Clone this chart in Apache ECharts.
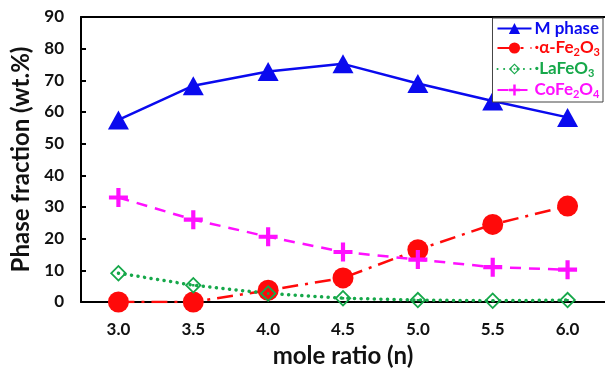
<!DOCTYPE html>
<html>
<head>
<meta charset="utf-8">
<script src="https://cdn.jsdelivr.net/npm/echarts@6/dist/echarts.min.js"></script>
<style>
  html, body { margin: 0; padding: 0; background: #fff; }
  #chart { width: 605px; height: 371px; }
</style>
</head>
<body>
<div id="chart"></div>
<script>
// mole ratio categories
const moleRatio = ["3.0", "3.5", "4.0", "4.5", "5.0", "5.5", "6.0"];
// phase fractions (wt.%)
const mPhase = [57.5, 68.3, 72.8, 75.2, 69.0, 63.5, 58.3];
const fe2o3 = [0, 0, 3.7, 7.6, 16.5, 24.5, 30.3];
const lafeo3 = [9.1, 5.3, 2.7, 1.2, 0.6, 0.4, 0.6];
const cofe2o4 = [33.0, 26.0, 20.6, 15.8, 13.4, 11.0, 10.2];
const yTicks = { min: 0, max: 90, interval: 10 };

const FONT = "Lato";
const BLUE = "#0a0aee";
const RED = "#ff0a0a";
const GREEN = "#16a84a";
const MAGENTA = "#ff10ff";

// plus sign and hollow diamond with a dot in the middle
const plusPath = "path://M39 0H61V39H100V61H61V100H39V61H0V39H39Z";
const diamondPath =
  "path://M50 0L100 50L50 100L0 50Z M50 15L15 50L50 85L85 50Z M43 43L57 43L57 57L43 57Z";

const chart = echarts.init(document.getElementById("chart"));

// rich text styles for legend labels (subscripts)
const rich = {};
[["r", RED], ["g", GREEN], ["m", MAGENTA], ["b", BLUE]].forEach(([k, c]) => {
  rich[k] = { color: c, fontFamily: FONT, fontWeight: "bold", fontSize: 17, lineHeight: 18 };
  rich[k + "s"] = {
    color: c, fontFamily: FONT, fontWeight: "bold", fontSize: 11, lineHeight: 18,
    padding: [9, 0, 0, 0],
  };
});
const legendText = {
  "M phase": "{b|M phase}",
  "α-Fe2O3": "{r|·α-Fe}{rs|2}{r|O}{rs|3}",
  "LaFeO3": "{g|·LaFeO}{gs|3}",
  "CoFe2O4": "{m|CoFe}{ms|2}{m|O}{ms|4}",
};

const option = {
  animation: false,
  grid: { left: 81, top: 17, right: 0, bottom: 69, outerBoundsMode: "none" },
  legend: {
    orient: "vertical",
    right: 2,
    top: 18,
    padding: [2, 3, 2, 4],
    itemGap: 1,
    itemWidth: 34,
    itemHeight: 14,
    borderColor: "#444",
    borderWidth: 1,
    backgroundColor: "#fff",
    formatter: (name) => legendText[name],
    textStyle: { rich: rich, padding: [0, 0, 0, -2] },
    data: ["M phase", "α-Fe2O3", "LaFeO3", "CoFe2O4"],
  },
  xAxis: [
    {
      type: "category",
      data: moleRatio,
      boundaryGap: true,
      name: "mole ratio (n)",
      nameLocation: "middle",
      nameGap: 42,
      nameTextStyle: { fontFamily: FONT, fontWeight: "bold", fontSize: 24, color: "#111" },
      axisLine: { lineStyle: { color: "#000", width: 2 } },
      axisTick: { inside: true, length: 5, lineStyle: { color: "#000", width: 2 } },
      axisLabel: { fontFamily: FONT, fontWeight: "bold", fontSize: 17, color: "#111", margin: 19 },
      splitLine: { show: false },
    },
    {
      type: "category",
      data: moleRatio,
      position: "top",
      axisLine: { lineStyle: { color: "#000", width: 2 } },
      axisTick: { show: false },
      axisLabel: { show: false },
    },
  ],
  yAxis: {
    type: "value",
    min: yTicks.min,
    max: yTicks.max,
    interval: yTicks.interval,
    name: "Phase fraction (wt.%)",
    nameLocation: "middle",
    nameGap: 48,
    nameTextStyle: { fontFamily: FONT, fontWeight: "bold", fontSize: 24, color: "#111" },
    axisLine: { show: true, lineStyle: { color: "#000", width: 2 } },
    axisTick: { show: true, inside: true, length: 5, lineStyle: { color: "#000", width: 2 } },
    axisLabel: { fontFamily: FONT, fontWeight: "bold", fontSize: 17, color: "#111", margin: 17 },
    splitLine: { show: false },
  },
  series: [
    {
      name: "M phase",
      type: "line",
      data: mPhase,
      symbol: "triangle",
      symbolSize: [21, 19],
      itemStyle: { color: BLUE },
      lineStyle: { color: BLUE, width: 2.5 },
    },
    {
      name: "α-Fe2O3",
      type: "line",
      data: fe2o3,
      symbol: "circle",
      symbolSize: 21,
      itemStyle: { color: RED },
      lineStyle: { color: RED, width: 2.5, type: [16, 7, 3, 7] },
    },
    {
      name: "LaFeO3",
      type: "line",
      data: lafeo3,
      symbol: diamondPath,
      symbolSize: 17,
      itemStyle: { color: GREEN },
      lineStyle: { color: GREEN, width: 3.5, type: [0.1, 6.5], cap: "round" },
    },
    {
      name: "CoFe2O4",
      type: "line",
      data: cofe2o4,
      symbol: plusPath,
      symbolSize: 19,
      itemStyle: { color: MAGENTA },
      lineStyle: { color: MAGENTA, width: 2.5, type: [11, 8] },
    },
  ],
};

chart.setOption(option);
</script>
</body>
</html>
